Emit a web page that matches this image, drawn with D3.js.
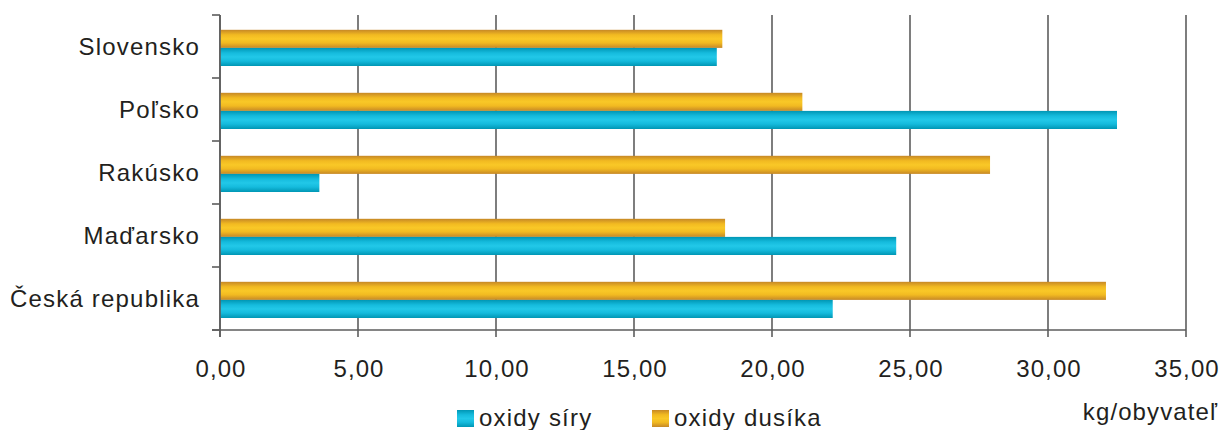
<!DOCTYPE html>
<html>
<head>
<meta charset="utf-8">
<script src="https://cdn.jsdelivr.net/npm/d3@7"></script>
<style>
  html, body { margin: 0; padding: 0; background: #fff; }
  svg { display: block; }
  text { font-family: "Liberation Sans", Arial, Helvetica, sans-serif; fill: #231f20; }
</style>
</head>
<body>
<svg id="chart" width="1221" height="430"></svg>
<script>
// Emisie na obyvateľa (kg/obyvateľ)
const categories = ["Slovensko", "Poľsko", "Rakúsko", "Maďarsko", "Česká republika"];
const oxidySiry   = [18.0, 32.5, 3.6, 24.5, 22.2];
const oxidyDusika = [18.2, 21.1, 27.9, 18.3, 32.1];
const xTicks = [0, 5, 10, 15, 20, 25, 30, 35];
const seriesNames = ["oxidy síry", "oxidy dusíka"];
const unitLabel = "kg/obyvateľ";

const svg = d3.select("#chart");
const plotLeft = 220, plotRight = 1186, plotTop = 15, plotBottom = 330;

const x = d3.scaleLinear().domain([0, 35]).range([plotLeft, plotRight]);
const y = d3.scaleBand().domain(categories).range([plotTop, plotBottom]);
// within a category: dusík on top, síra below
const ySub = d3.scaleBand().domain(["nox", "sox"]).range([14.8, 51]);

const fmt = d3.formatLocale({ decimal: ",", thousands: " ", grouping: [3], currency: ["", ""] }).format(".2f");

// gradients for the tube-like bars
const defs = svg.append("defs");
function grad(id, edge, mid, light) {
  const g = defs.append("linearGradient").attr("id", id)
    .attr("x1", 0).attr("y1", 0).attr("x2", 0).attr("y2", 1);
  [[0, edge], [0.28, mid], [0.5, light], [0.72, mid], [1, edge]].forEach(([o, c]) =>
    g.append("stop").attr("offset", o).attr("stop-color", c));
}
grad("gOrange", "#c68826", "#f2ba21", "#f9c827");
grad("gBlue", "#0096b4", "#15bbdd", "#22c8e8");

// vertical grid lines (extending below the axis as ticks)
svg.append("g").selectAll("line").data(xTicks).join("line")
  .attr("x1", d => x(d)).attr("x2", d => x(d))
  .attr("y1", plotTop).attr("y2", plotBottom + 7)
  .attr("stroke", "#5d5d5d").attr("stroke-width", 1.6);

// bottom axis line and left axis with category boundary ticks
svg.append("line").attr("x1", plotLeft - 8).attr("x2", plotRight).attr("y1", plotBottom).attr("y2", plotBottom)
  .attr("stroke", "#5d5d5d").attr("stroke-width", 1.6);
const bounds = categories.map(c => y(c)).concat([plotBottom]);
svg.append("g").selectAll("line").data(bounds).join("line")
  .attr("x1", plotLeft - 8).attr("x2", plotLeft).attr("y1", d => d).attr("y2", d => d)
  .attr("stroke", "#5d5d5d").attr("stroke-width", 1.6);

// bars
const rows = categories.map((c, i) => ({ c, sox: oxidySiry[i], nox: oxidyDusika[i] }));
const gBars = svg.append("g");
rows.forEach(r => {
  gBars.append("rect")
    .attr("x", x(0)).attr("y", y(r.c) + ySub("nox"))
    .attr("width", x(r.nox) - x(0)).attr("height", ySub.bandwidth())
    .attr("fill", "url(#gOrange)");
  gBars.append("rect")
    .attr("x", x(0)).attr("y", y(r.c) + ySub("sox"))
    .attr("width", x(r.sox) - x(0)).attr("height", ySub.bandwidth())
    .attr("fill", "url(#gBlue)");
});

// y axis line on top of bars
svg.append("line").attr("x1", plotLeft).attr("x2", plotLeft).attr("y1", plotTop).attr("y2", plotBottom + 7)
  .attr("stroke", "#5d5d5d").attr("stroke-width", 1.6);

// category labels
svg.append("g").selectAll("text").data(categories).join("text")
  .attr("x", 200).attr("y", d => y(d) + y.bandwidth() / 2 + 8.5)
  .attr("text-anchor", "end")
  .attr("font-size", 24).attr("letter-spacing", 1.2)
  .text(d => d);

// x tick labels
svg.append("g").selectAll("text").data(xTicks).join("text")
  .attr("x", d => x(d) + 1).attr("y", 377)
  .attr("text-anchor", "middle")
  .attr("font-size", 24).attr("letter-spacing", 1.1)
  .text(d => fmt(d));

// legend
const legend = [
  { name: seriesNames[0], fill: "url(#gBlue)", x: 457 },
  { name: seriesNames[1], fill: "url(#gOrange)", x: 652 }
];
const lg = svg.append("g");
legend.forEach(l => {
  lg.append("rect").attr("x", l.x).attr("y", 410).attr("width", 17).attr("height", 17).attr("fill", l.fill);
  lg.append("text").attr("x", l.x + 22).attr("y", 426)
    .attr("font-size", 24).attr("letter-spacing", 1.2).text(l.name);
});

// unit label
svg.append("text").attr("x", 1218).attr("y", 420).attr("text-anchor", "end")
  .attr("font-size", 24).attr("letter-spacing", 1.1).text(unitLabel);
</script>
</body>
</html>
